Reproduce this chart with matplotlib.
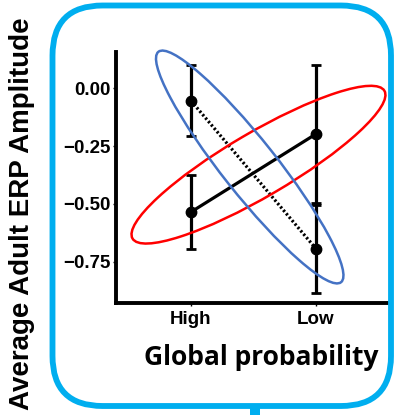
import matplotlib
matplotlib.use("Agg")
import matplotlib.pyplot as plt
import numpy as np
from matplotlib.patches import Ellipse, FancyBboxPatch, Rectangle
from matplotlib.transforms import IdentityTransform

# ---- data ----
categories = ["High", "Low"]
solid_means = [-0.535, -0.197]
solid_err = [0.16, 0.30]
dotted_means = [-0.053, -0.694]
dotted_err = [0.153, 0.19]
yticks = [0.00, -0.25, -0.50, -0.75]
ytick_labels = ["0.00", "\u22120.25", "\u22120.50", "\u22120.75"]

# annotation ellipses: center (data), semi-axes (px), angle (deg)
red_center = (1.54, -0.33)
red_axes = (146, 32)
red_angle = 30.4
blue_center = (1.47, -0.34)
blue_axes = (147, 27)
blue_angle = -51.6

W, H = 395, 415
fig = plt.figure(figsize=(W / 100, H / 100), dpi=100)
fig.patch.set_facecolor("white")

ax = fig.add_axes([115.7 / W, (H - 303) / H, (390 - 115.7) / W, (303 - 52) / H])
x = np.arange(1, len(categories) + 1)

ax.errorbar(x, solid_means, yerr=solid_err, color="black", lw=2.3, capsize=3.5,
            capthick=2, marker="o", ms=7.5, ls="-", zorder=3, clip_on=False)
ax.errorbar(x, dotted_means, yerr=dotted_err, color="black", lw=2.3, capsize=3.5,
            capthick=2, marker="o", ms=7.5, ls="none", zorder=3, clip_on=False)
ax.plot(x, dotted_means, color="black", lw=2.3, ls=(0, (0.7, 0.7)), zorder=3)

ax.set_xlim(0.398, 2.592)
ax.set_ylim(-0.929, 0.158)
ax.set_xticks(x)
ax.set_xticklabels(categories)
ax.set_yticks(yticks)
ax.set_yticklabels(ytick_labels)
for s in ["top", "right"]:
    ax.spines[s].set_visible(False)
for s in ["left", "bottom"]:
    ax.spines[s].set_linewidth(2.8)
ax.tick_params(axis="both", length=2, width=1)
ax.tick_params(axis="y", pad=2)
ax.tick_params(axis="x", pad=4)
for lab in ax.get_xticklabels() + ax.get_yticklabels():
    lab.set_fontfamily("Liberation Sans")
    lab.set_fontweight("bold")
    lab.set_fontsize(13.5)

ax.set_xlabel("Global probability", fontfamily="Open Sans", fontweight="bold",
              fontsize=19)
ax.xaxis.set_label_coords((261 - 115.7) / (390 - 115.7), -(357 - 303) / (303 - 52))
ax.xaxis.label.set_va("center")

fig.text(22 / W, 1 - 214 / H, "Average Adult ERP Amplitude", rotation=90,
         ha="center", va="center", fontfamily="Liberation Sans",
         fontweight="bold", fontsize=20)

# ellipses in pixel space
fig.canvas.draw()
for c, axes_px, ang, col in [(red_center, red_axes, red_angle, "#ff0000"),
                             (blue_center, blue_axes, blue_angle, "#4472c4")]:
    cx, cy = ax.transData.transform(c)
    e = Ellipse((cx, cy), 2 * axes_px[0], 2 * axes_px[1], angle=ang,
                transform=IdentityTransform(), fill=False, edgecolor=col,
                lw=1.8, zorder=5, clip_on=False)
    fig.add_artist(e)

# rounded blue frame
blue = "#00aeef"
frame = FancyBboxPatch((52.5 + 50, H - 406 + 50), (391 - 52.5) - 100, (406 - 5.5) - 100,
                       boxstyle="round,pad=50", transform=IdentityTransform(),
                       fill=False, edgecolor=blue, lw=4.2, zorder=1)
fig.add_artist(frame)
fig.add_artist(Rectangle((250, 0), 10, H - 406, transform=IdentityTransform(),
                         facecolor=blue, edgecolor="none"))

fig.savefig("out.png", dpi=100)
